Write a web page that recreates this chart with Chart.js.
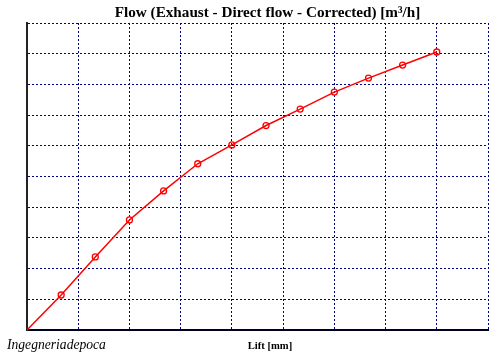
<!DOCTYPE html>
<html>
<head>
<meta charset="utf-8">
<script src="https://cdn.jsdelivr.net/npm/chart.js@4/dist/chart.umd.min.js"></script>
<style>
html,body{margin:0;padding:0;background:#fff;}
canvas{display:block;}
</style>
</head>
<body>
<canvas id="c" width="500" height="358"></canvas>
<script>
const titleText = "Flow (Exhaust - Direct flow - Corrected) [m³/h]";
const xLabel = "Lift [mm]";
const watermark = "Ingegneriadepoca";
const lift = [0, 1, 2, 3, 4, 5, 6, 7, 8, 9, 10, 11, 12];
const flow = [0, 22.8, 47.6, 71.7, 90.6, 108.3, 120.6, 133.2, 143.9, 155.0, 164.1, 172.6, 181.1];
const xMax = 13.5, xStep = 1.5;
const yMax = 200, yStep = 20;

const textPlugin = {
  id: 'texts',
  afterDraw(chart) {
    const ctx = chart.ctx;
    ctx.save();
    ctx.fillStyle = '#000';
    ctx.textBaseline = 'alphabetic';
    ctx.textAlign = 'center';
    ctx.font = 'bold 15.2px "Liberation Serif"';
    ctx.fillText(titleText, 267.5, 17);
    ctx.font = 'bold 10.6px "Liberation Serif"';
    ctx.fillText(xLabel, 270, 349);
    ctx.textAlign = 'left';
    ctx.font = 'italic 13.6px "Liberation Serif"';
    ctx.fillText(watermark, 7, 349);
    ctx.restore();
  }
};

new Chart(document.getElementById('c'), {
  type: 'scatter',
  data: {
    datasets: [{
      data: lift.map((x, i) => ({x: x, y: flow[i]})),
      showLine: true,
      borderColor: '#ff0000',
      borderWidth: 1.5,
      pointRadius: lift.map((x, i) => i === 0 ? 0 : 3),
      pointBorderColor: '#ff0000',
      pointBackgroundColor: 'rgba(0,0,0,0)',
      pointBorderWidth: 1.3,
      tension: 0
    }]
  },
  options: {
    responsive: false,
    animation: false,
    layout: {padding: {left: 27, top: 23, right: 12, bottom: 28}},
    plugins: {legend: {display: false}, tooltip: {enabled: false}, title: {display: false}},
    scales: {
      x: {
        type: 'linear', min: 0, max: xMax,
        ticks: {display: false, stepSize: xStep},
        grid: {color: '#000080', lineWidth: 1, drawTicks: false, tickLength: 0},
        border: {display: true, color: '#000022', width: 2, dash: [2,2]}
      },
      y: {
        type: 'linear', min: 0, max: yMax,
        ticks: {display: false, stepSize: yStep},
        grid: {color: '#000080', lineWidth: 1, drawTicks: false, tickLength: 0},
        border: {display: true, color: '#222222', width: 2, dash: [2,2]}
      }
    }
  },
  plugins: [textPlugin]
});
</script>
</body>
</html>
